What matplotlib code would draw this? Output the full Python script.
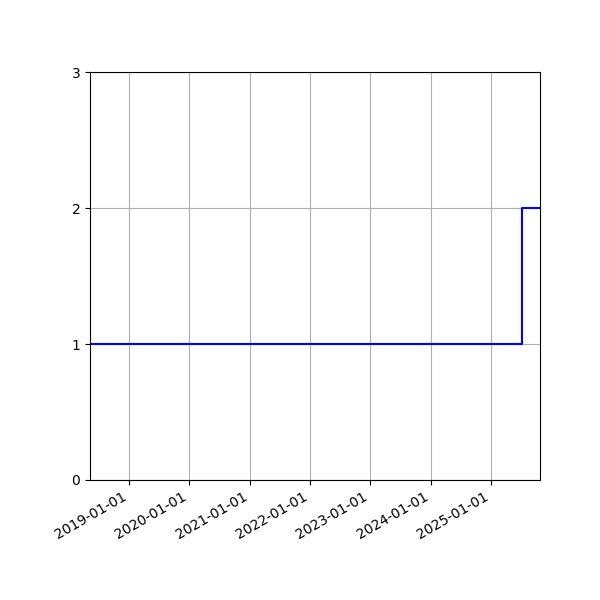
import matplotlib
matplotlib.use("Agg")
import matplotlib.pyplot as plt
import matplotlib.dates as mdates
import numpy as np

dates = np.array(["2018-05-10", "2025-07-10", "2025-10-25"], dtype="datetime64[D]")
values = [1, 2, 2]
tick_dates = np.array(["2019-01-01", "2020-01-01", "2021-01-01", "2022-01-01",
                       "2023-01-01", "2024-01-01", "2025-01-01"], dtype="datetime64[D]")
yticks = [0, 1, 2, 3]

fig, ax = plt.subplots(figsize=(6, 6), dpi=100)
fig.subplots_adjust(left=0.15, right=0.9, top=0.88, bottom=0.2)
ax.step(dates, values, where="post", color="blue")
ax.set_xlim(dates[0], dates[-1])
ax.set_ylim(0, 3)
ax.set_yticks(yticks)
ax.set_xticks(tick_dates)
ax.xaxis.set_major_formatter(mdates.DateFormatter("%Y-%m-%d"))
ax.grid(True)
for lbl in ax.get_xticklabels():
    lbl.set_rotation(30)
    lbl.set_ha("right")
fig.savefig("out.png", dpi=100)
